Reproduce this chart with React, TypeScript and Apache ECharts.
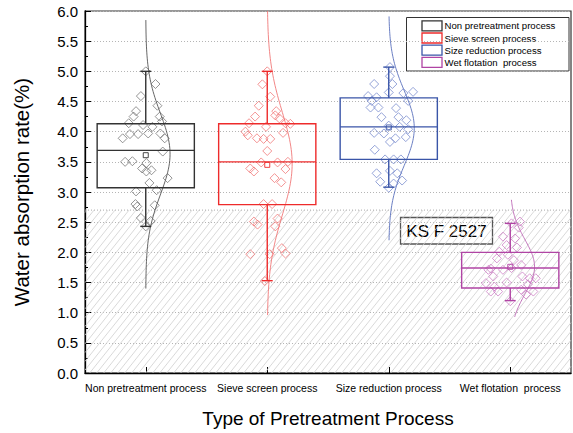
import React, { useEffect, useRef } from "react";
import * as echarts from "echarts";

// ---------- DATA ----------
const categories = [
  "Non pretreatment process",
  "Sieve screen process",
  "Size reduction process",
  "Wet flotation  process",
];
const categoryPos = [1, 2, 3, 4];
const yTicks = [0, 0.5, 1, 1.5, 2, 2.5, 3, 3.5, 4, 4.5, 5, 5.5, 6];

// box stats: [x, min, q1, median, q3, max, mean]
const boxNon = [1, 2.43, 3.07, 3.69, 4.13, 5.0, 3.61];
const boxSieve = [2, 1.53, 2.79, 3.5, 4.13, 5.0, 3.45];
const boxSize = [3, 3.08, 3.54, 4.08, 4.56, 5.07, 4.07];
const boxWet = [4, 1.2, 1.41, 1.74, 2.0, 2.48, 1.76];

// normal curve: [x, mean, sd, low, high, peakWidth]
const curveNon = [1, 3.63, 0.67, 1.4, 5.85, 0.2];
const curveSieve = [2, 3.47, 0.85, 0.96, 6.0, 0.205];
const curveSize = [3, 4.06, 0.62, 2.2, 5.91, 0.21];
const curveWet = [4, 1.76, 0.45, 0.93, 2.87, 0.2];

const pointsNon = [
  [1.0, 5.0], [1.08, 4.79], [0.96, 4.59], [1.096, 4.43], [0.92, 4.34], [0.9, 4.25], [1.115, 4.25],
  [1.134, 4.17], [0.86, 4.14], [0.978, 4.11], [1.055, 4.08], [1.02, 3.97], [0.937, 3.96], [0.87, 3.96],
  [1.12, 3.97], [0.81, 3.89], [1.156, 3.89], [1.14, 3.67], [0.83, 3.5], [0.89, 3.51], [1.005, 3.48],
  [0.97, 3.39], [1.047, 3.36], [1.005, 3.34], [1.18, 3.23], [1.03, 3.15], [1.09, 3.03], [0.92, 3.01],
  [0.915, 2.8], [0.93, 2.76], [1.074, 2.78], [0.96, 2.57], [1.04, 2.52], [1.0, 2.43],
];
const pointsSieve = [
  [2.0, 5.0], [1.96, 4.785], [2.025, 4.58], [1.93, 4.43], [2.074, 4.34], [1.9, 4.25], [2.066, 4.27],
  [2.1, 4.22], [1.85, 4.14], [1.99, 4.08], [2.15, 4.14], [2.19, 4.13], [1.82, 4.0], [1.84, 3.94],
  [2.13, 3.98], [1.915, 3.89], [1.97, 3.88], [2.025, 3.88], [2.0, 3.68], [1.86, 3.39], [1.89, 3.34],
  [1.95, 3.49], [2.085, 3.49], [2.15, 3.38], [2.17, 3.5], [2.06, 3.23], [2.115, 3.16], [1.97, 2.8],
  [2.04, 2.8], [1.89, 2.51], [1.92, 2.46], [2.085, 2.56], [2.066, 2.43], [1.86, 1.97], [2.02, 1.97],
  [2.12, 2.07], [2.15, 1.98], [1.98, 1.525],
];
const pointsSize = [
  [3.01, 5.07], [3.01, 4.92], [3.03, 4.79], [2.88, 4.79], [3.0, 4.65], [3.2, 4.66], [3.12, 4.64],
  [2.83, 4.59], [2.9, 4.57], [2.86, 4.51], [3.16, 4.51], [2.85, 4.4], [2.915, 4.4], [3.06, 4.39],
  [2.94, 4.24], [3.08, 4.24], [3.145, 4.19], [3.0, 4.1], [3.09, 4.08], [3.16, 4.04], [2.88, 3.98],
  [2.96, 3.97], [3.055, 3.89], [3.14, 3.91], [3.01, 3.83], [2.885, 3.7], [2.97, 3.54], [3.04, 3.54],
  [3.1, 3.54], [2.9, 3.31], [3.01, 3.35], [3.07, 3.31], [2.93, 3.17], [3.04, 3.14], [3.11, 3.19],
  [3.0, 3.07],
];
const pointsWet = [
  [4.01, 2.48], [4.07, 2.41], [4.08, 2.51], [3.94, 2.26], [4.04, 2.23], [3.97, 2.12], [4.055, 2.08],
  [3.91, 2.01], [3.98, 1.96], [4.03, 1.87], [3.89, 1.9], [3.84, 1.73], [3.82, 1.71], [3.94, 1.71],
  [4.01, 1.74], [4.09, 1.79], [3.86, 1.6], [4.1, 1.6], [4.16, 1.57], [4.21, 1.57], [3.8, 1.49],
  [3.97, 1.5], [4.145, 1.47], [3.87, 1.43], [3.84, 1.35], [3.9, 1.35], [4.09, 1.38], [4.13, 1.3],
  [4.19, 1.35], [4.0, 1.19],
];

const ksLimit = [2.7];
const ksLabel = "KS F 2527";

// ---------- STYLE ----------
const FONT = '"Liberation Sans", Arial, sans-serif';
const boxColors = ["#333333", "#ee2b2b", "#3a55a8", "#b044a4"];
const pointColors = ["#6a6a6a", "#f06a6a", "#6b80c8", "#c873c0"];
const curveColors = ["#555555", "#f07878", "#5a70bc", "#bb64b3"];

const boxes = [boxNon, boxSieve, boxSize, boxWet];
const curves = [curveNon, curveSieve, curveSize, curveWet];
const points = [pointsNon, pointsSieve, pointsSize, pointsWet];

function boxRender(gi: number) {
  return (params: any, api: any) => {
    const x = api.value(0);
    const mn = api.value(1), q1 = api.value(2), md = api.value(3), q3 = api.value(4), mx = api.value(5), mean = api.value(6);
    const half = 0.4, cap = 0.045;
    const pL = api.coord([x - half, q3]);
    const pR = api.coord([x + half, q1]);
    const c = api.coord([x, md]);
    const pMax = api.coord([x, mx]);
    const pMin = api.coord([x, mn]);
    const capL = api.coord([x - cap, mx])[0];
    const capR = api.coord([x + cap, mx])[0];
    const pMean = api.coord([x, mean]);
    const col = boxColors[gi];
    const st = { stroke: col, lineWidth: 1.4, fill: null };
    return {
      type: "group",
      children: [
        { type: "rect", shape: { x: pL[0], y: pL[1], width: pR[0] - pL[0], height: pR[1] - pL[1] }, style: { ...st, fill: "none" } },
        { type: "line", shape: { x1: pL[0], y1: c[1], x2: pR[0], y2: c[1] }, style: st },
        { type: "line", shape: { x1: c[0], y1: pL[1], x2: c[0], y2: pMax[1] }, style: st },
        { type: "line", shape: { x1: c[0], y1: pR[1], x2: c[0], y2: pMin[1] }, style: st },
        { type: "line", shape: { x1: capL, y1: pMax[1], x2: capR, y2: pMax[1] }, style: st },
        { type: "line", shape: { x1: capL, y1: pMin[1], x2: capR, y2: pMin[1] }, style: st },
        { type: "rect", shape: { x: pMean[0] - 2.5, y: pMean[1] - 2.5, width: 5, height: 5 }, style: { stroke: col, lineWidth: 0.9, fill: "none" } },
      ],
    };
  };
}

function curveRender(gi: number) {
  return (params: any, api: any) => {
    const x = api.value(0), m = api.value(1), sd = api.value(2), lo = api.value(3), hi = api.value(4), pk = api.value(5);
    const pts: number[][] = [];
    const n = 90;
    for (let i = 0; i <= n; i++) {
      const v = lo + ((hi - lo) * i) / n;
      const w = pk * Math.exp(-((v - m) * (v - m)) / (2 * sd * sd));
      pts.push(api.coord([x + w, v]));
    }
    return {
      type: "polyline",
      shape: { points: pts },
      style: { stroke: curveColors[gi], lineWidth: 0.9, fill: "none" },
    };
  };
}

function hatchRender(params: any, api: any) {
  const lim = api.value(0);
  const p0 = api.coord([0.5, lim]);
  const p1 = api.coord([4.5, 0]);
  const x0 = p0[0], y0 = p0[1], x1 = p1[0], y1 = p1[1];
  const H = y1 - y0;
  const k = 0.8, step = 7;
  const children: any[] = [];
  for (let c = x0 + 2; c < x1 + k * H; c += step) {
    let tx = c, ty = y0;
    if (tx > x1) { ty = y0 + (tx - x1) / k; tx = x1; }
    let bx = c - k * H, by = y1;
    if (bx < x0) { by = y0 + (c - x0) / k; bx = x0; }
    if (ty >= by) continue;
    children.push({ type: "line", shape: { x1: tx, y1: ty, x2: bx, y2: by }, style: { stroke: "#cfcfcf", lineWidth: 0.8 } });
  }
  children.push({ type: "line", shape: { x1: x0, y1: y0, x2: x1, y2: y0 }, style: { stroke: "#aaaaaa", lineWidth: 1, lineDash: [1, 2] } });
  return { type: "group", children };
}

export default function App() {
  const ref = useRef<HTMLDivElement>(null);
  useEffect(() => {
    if (!ref.current) return;
    const chart = echarts.init(ref.current, null, { renderer: "svg" });
    const series: any[] = [];
    series.push({
      type: "custom",
      renderItem: hatchRender,
      data: [ksLimit],
      encode: { y: 0 },
      z: 1,
      silent: true,
    });
    for (let g = 0; g < 4; g++) {
      series.push({
        type: "custom",
        name: categories[g],
        renderItem: curveRender(g),
        data: [curves[g]],
        encode: { x: 0, y: 1 },
        z: 2,
        silent: true,
      });
      series.push({
        type: "scatter",
        data: points[g],
        symbol: "diamond",
        symbolSize: [9, 9],
        itemStyle: { color: "rgba(0,0,0,0)", borderColor: pointColors[g], borderWidth: 0.9 },
        z: 3,
        silent: true,
      });
      series.push({
        type: "custom",
        renderItem: boxRender(g),
        data: [boxes[g]],
        encode: { x: 0, y: [1, 2, 3, 4, 5] },
        z: 4,
        silent: true,
      });
    }

    const legendChildren: any[] = [
      { type: "rect", shape: { x: 406.5, y: 17.5, width: 162.5, height: 53.5 }, style: { fill: "#fff", stroke: "#333", lineWidth: 1 } },
    ];
    for (let g = 0; g < 4; g++) {
      const cy = 25.8 + g * 12.2;
      legendChildren.push({ type: "rect", shape: { x: 422, y: cy - 5, width: 20, height: 10 }, style: { fill: "#fff", stroke: boxColors[g], lineWidth: 1.3 } });
      legendChildren.push({ type: "text", x: 444.5, y: cy, style: { text: categories[g], fontFamily: FONT, fontSize: 9.6, fill: "#000", verticalAlign: "middle", align: "left" } });
    }

    chart.setOption({
      animation: false,
      backgroundColor: "#ffffff",
      grid: {
        left: 85, top: 11, right: 2, bottom: 60,
        containLabel: false,
        outerBoundsMode: "none",
        show: true, borderColor: "#333", borderWidth: 1.2, backgroundColor: "transparent",
      },
      xAxis: {
        type: "value",
        min: 0.5,
        max: 4.5,
        name: "Type of Pretreatment Process",
        nameLocation: "middle",
        nameGap: 36,
        nameTextStyle: { fontFamily: FONT, fontSize: 19, color: "#000" },
        axisLine: { show: true, lineStyle: { color: "#000", width: 1.3 } },
        axisTick: { show: true, inside: true, length: 6, customValues: categoryPos, lineStyle: { color: "#000" } },
        axisLabel: {
          customValues: categoryPos,
          formatter: (v: number) => categories[Math.round(v) - 1] ?? "",
          fontFamily: FONT,
          fontSize: 10.5,
          color: "#000",
          margin: 9,
        },
        splitLine: { show: false },
      },
      yAxis: {
        type: "value",
        min: 0,
        max: 6,
        interval: 0.5,
        name: "Water absorption rate(%)",
        nameLocation: "middle",
        nameGap: 53,
        nameRotate: 90,
        nameTextStyle: { fontFamily: FONT, fontSize: 20.5, color: "#000" },
        axisLine: { show: true, lineStyle: { color: "#000", width: 1.3 } },
        axisTick: { show: true, inside: true, length: 6, lineStyle: { color: "#000" } },
        minorTick: { show: true, splitNumber: 2, length: 3, lineStyle: { color: "#000" } },
        axisLabel: {
          formatter: (v: number) => (yTicks.includes(v) ? v.toFixed(1) : ""),
          fontFamily: FONT,
          fontSize: 15,
          color: "#000",
          margin: 7,
        },
        splitLine: { show: true, lineStyle: { color: "#b5b5b5", width: 1, type: [1, 2] } },
      },
      series,
      graphic: [
        { type: "group", z: 100, children: legendChildren },
        {
          type: "group",
          z: 100,
          children: [
            { type: "rect", shape: { x: 400.5, y: 217.5, width: 92, height: 26.5 }, style: { fill: "#fff", stroke: "#555", lineWidth: 1.3 } },
            { type: "text", x: 446.5, y: 231, style: { text: ksLabel, fontFamily: FONT, fontSize: 17, fill: "#000", align: "center", verticalAlign: "middle" } },
          ],
        },
      ],
    });
    return () => chart.dispose();
  }, []);
  return <div ref={ref} style={{ position: "absolute", left: 0, top: 0, width: 573, height: 433 }} />;
}
